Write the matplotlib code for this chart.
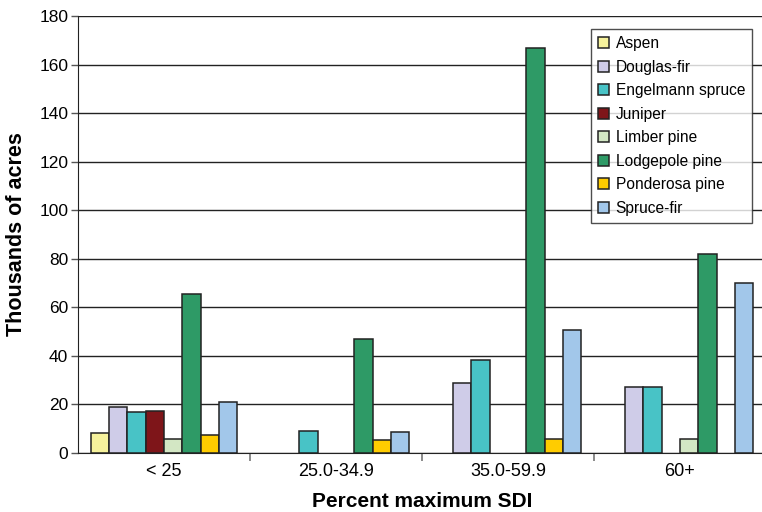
import matplotlib
matplotlib.use("Agg")
import matplotlib.pyplot as plt
import numpy as np

categories = ["< 25", "25.0-34.9", "35.0-59.9", "60+"]
species = ["Aspen", "Douglas-fir", "Engelmann spruce", "Juniper",
           "Limber pine", "Lodgepole pine", "Ponderosa pine", "Spruce-fir"]
aspen = [8.1, 0, 0, 0]
douglas_fir = [18.8, 0, 28.9, 27.1]
engelmann_spruce = [16.9, 9.0, 38.5, 27.1]
juniper = [17.3, 0, 0, 0]
limber_pine = [5.8, 0, 0, 5.7]
lodgepole_pine = [65.4, 46.8, 166.8, 81.8]
ponderosa_pine = [7.5, 5.3, 5.7, 0]
spruce_fir = [21.1, 8.5, 50.5, 70.0]
series = [aspen, douglas_fir, engelmann_spruce, juniper,
          limber_pine, lodgepole_pine, ponderosa_pine, spruce_fir]
colors = ["#F6F29C", "#CFCCE8", "#48C3C6", "#7E1519",
          "#D3E7C4", "#2E9A66", "#FFCC00", "#A2C7EA"]
yticks = [0, 20, 40, 60, 80, 100, 120, 140, 160, 180]

plt.rcParams['font.family'] = ['Liberation Sans', 'DejaVu Sans']

fig = plt.figure(figsize=(7.62, 5.12), dpi=100)
ax = fig.add_axes([78/762, 1-453/512, (766-78)/762, (453-16)/512])

n = len(series)
bw = 0.85 / n
x = np.arange(len(categories))
for i, (vals, name, c) in enumerate(zip(series, species, colors)):
    offs = (i - (n - 1) / 2) * bw
    v = np.array(vals, dtype=float)
    mask = v > 0
    ax.bar(x[mask] + offs, v[mask], width=bw, color=c, edgecolor="#222222",
           linewidth=1.1, label=name, zorder=3)

ax.set_xlim(-0.5, len(categories) - 0.5)
ax.set_ylim(0, 180)
ax.set_yticks(yticks)
ax.yaxis.grid(True, color="#222222", linewidth=1.0, zorder=0)
ax.set_axisbelow(True)

ax.set_xticks(x)
ax.set_xticklabels(categories)
ax.set_xticks(np.arange(0.5, len(categories) - 0.5, 1.0), minor=True)
ax.tick_params(axis='x', which='major', length=0, labelsize=13, pad=7)
ax.tick_params(axis='x', which='minor', length=6, color="#777777", width=1.2)
ax.tick_params(axis='y', length=5, labelsize=12.5, color="#555555", width=1.0, pad=2)

for s in ["top", "right"]:
    ax.spines[s].set_visible(False)
ax.spines["left"].set_color("#222222")
ax.spines["bottom"].set_color("#222222")

ax.set_ylabel("Thousands of acres", fontsize=15.5, fontweight="bold", labelpad=9)
ax.set_xlabel("Percent maximum SDI", fontsize=15, fontweight="bold", labelpad=9)

leg = ax.legend(loc="upper right", bbox_to_anchor=(752/762, 1-29/512),
                bbox_transform=fig.transFigure, borderaxespad=0,
                fontsize=11.2, frameon=True, fancybox=False,
                edgecolor="#222222", handlelength=0.7, handleheight=0.7,
                handletextpad=0.4, labelspacing=0.55, borderpad=0.45)
leg.get_frame().set_linewidth(1.0)
leg.set_zorder(5)

fig.savefig("out.png", dpi=100)
